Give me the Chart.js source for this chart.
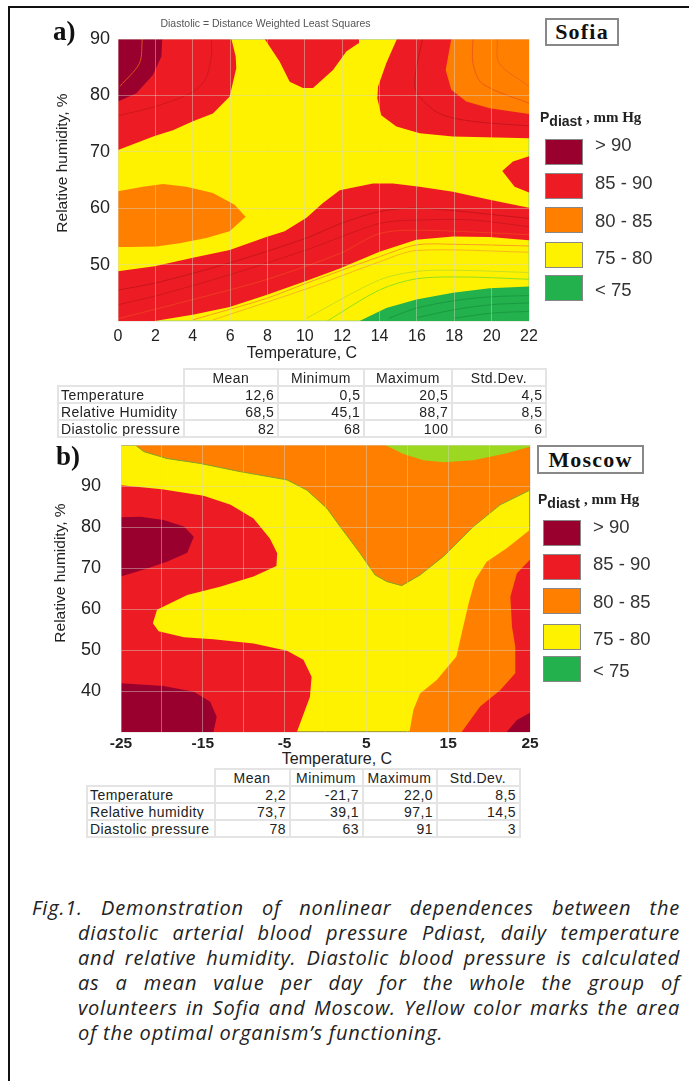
<!DOCTYPE html>
<html>
<head>
<meta charset="utf-8">
<script src="https://cdn.jsdelivr.net/npm/chart.js@4"></script>
<style>
html, body { margin: 0; padding: 0; background: #fff; }
body { position: relative; width: 689px; height: 1081px; overflow: hidden; font-family: "Liberation Sans", Arial, sans-serif; color: #222; }
.abs { position: absolute; white-space: nowrap; }
canvas { position: absolute; }
#frameTop { position: absolute; left: 9px; top: 6px; width: 680px; height: 2px; background: #111; }
#frameLeft { position: absolute; left: 8px; top: 6px; width: 2px; height: 1075px; background: #111; }
.ytitle { transform: translate(-50%, -50%) rotate(-90deg); font-size: 15.5px; }
.xtitle { transform: translate(-50%, -50%); font-size: 16px; }
.tag { font: bold 27px "Liberation Serif", serif; color: #111; transform: translateY(-50%); }
.city { font: bold 22px "Liberation Serif", serif; letter-spacing: 1.2px; color: #111; border: 2px solid #888; box-sizing: border-box; text-align: center; background: #fff; }
.pd { font: bold 14px "Liberation Sans", sans-serif; transform: translateY(-50%); color: #222; }
.pd sub { font-size: 14px; vertical-align: -4px; line-height: 0; }
.pd span { font: bold 15px "Liberation Serif", serif; }
.sw { position: absolute; box-sizing: border-box; border: 1px solid #888; }
.lg { font-size: 18.5px; transform: translateY(-50%); color: #333; }
table { position: absolute; border-collapse: collapse; font-size: 14px; color: #222; table-layout: fixed; letter-spacing: .45px; }
td { border: 2px solid #e4e4e4; padding: 0 3px 0 2px; height: 15px; line-height: 14px; text-align: right; overflow: hidden; white-space: nowrap; }
td.nm { text-align: left; }
td.hd { text-align: center; }
td.none { border: none; }
#caption { position: absolute; left: 32px; top: 895px; width: 648px; font: italic 20px/25px "Open Sans", sans-serif; letter-spacing: .8px; color: #222; }
#caption div { text-align: justify; text-align-last: justify; padding-left: 46px; white-space: nowrap; }
#caption div:first-child { padding-left: 0; }
#caption div:last-child { text-align-last: left; }
</style>
</head>
<body>
<div id="frameTop"></div><div id="frameLeft"></div>
<canvas id="sofiaChart" width="560" height="365" style="left:2px;top:0"></canvas>
<canvas id="moscowChart" width="510" height="310" style="left:50px;top:440px"></canvas>
<div id="labels"></div>
<div id="caption">
<div>Fig.1. Demonstration of nonlinear dependences between the</div>
<div>diastolic arterial blood pressure Pdiast, daily temperature</div>
<div>and relative humidity. Diastolic blood pressure is calculated</div>
<div>as a mean value per day for the whole the group of</div>
<div>volunteers in Sofia and Moscow. Yellow color marks the area</div>
<div>of the optimal organism’s functioning.</div>
</div>
<script>
// colour classes
var legendLabels = ['> 90', '85 - 90', '80 - 85', '75 - 80', '< 75'];
var legendColors = ['#99002e', '#ed1c24', '#ff7f00', '#fff200', '#22b14c'];

// tick labels
var sofiaXTicks = [0, 2, 4, 6, 8, 10, 12, 14, 16, 18, 20, 22];
var sofiaYTicks = [50, 60, 70, 80, 90];
var moscowXTicks = [-25, -15, -5, 5, 15, 25];
var moscowYTicks = [40, 50, 60, 70, 80, 90];

// Sofia contours, [temperature, humidity]
var sofiaBase = [[0,40],[22,40],[22,90],[0,90]];
var sofiaRedTopLeft = [[0,70.3],[1.96,72.8],[2.94,73.8],[4.01,75.4],[5.08,76.8],[5.98,79.8],[6.33,84.8],[6.3,86.9],[6.07,90],[0,90]];
var sofiaDarkTopLeft = [[0,78.9],[0.98,80.4],[1.87,83.6],[2.32,86.9],[2.37,90],[0,90]];
var sofiaRedTopMid = [[7.85,90],[8.65,86],[9.19,82.4],[9.9,81.3],[10.44,81.3],[11.51,84.5],[12.22,87.8],[12.85,89.2],[12.9,90]];
var sofiaRedTopRight = [[14.93,90],[14.36,85.7],[13.92,81.6],[13.88,79.5],[14.09,76.5],[14.9,74.5],[16.15,73.3],[17.93,72.7],[22,72.4],[22,90]];
var sofiaOrangeTopRight = [[17.84,90],[17.54,84.5],[17.84,81],[18.64,78.9],[19.89,77.7],[22,76.7],[22,90]];
var sofiaRedRight = [[22,69.2],[21.14,68.3],[20.57,66.6],[21.23,63.8],[22,62.8]];
var sofiaOrangeLeft = [[0,63],[1.34,63.8],[2.41,64.3],[3.66,63.8],[5.08,62.7],[6.24,60.6],[6.83,58.5],[5.98,55.9],[4.73,54.7],[3.3,53.8],[2.05,53.2],[0.62,53.1],[0,53.1]];
var sofiaRedBand = [[0,48.8],[1.96,49.7],[4.01,51.2],[5.98,52.6],[7.94,54.9],[8.92,55.9],[10.09,58.3],[10.97,60.9],[11.87,63.2],[13.65,64.4],[14.72,64.4],[16.15,63.8],[17.93,62.9],[19.89,61.5],[22,60.1],
  [22,54.3],[19.89,54.9],[17.93,55],[15.97,54.4],[14,52.3],[11.87,49.3],[9.99,47],[7.94,44.6],[5.98,42.5],[4,41.1],[1.96,40],[0,40]];
var sofiaGreen = [[12.93,40],[14.36,42.3],[15.97,43.8],[17.93,45],[19.89,45.8],[22,46.1],[22,40]];

// Sofia thin isolines
var sofiaLineBand1 = [[0,45.5],[1.96,46.7],[5.98,50.3],[10.08,54.7],[11.86,57.2],[14,59.4],[16.15,60],[22,58.2]];
var sofiaLineBand2 = [[0,42.9],[1.96,44.4],[5.98,48.2],[10.08,52.6],[14,57.3],[16,57.9],[19,57.9],[22,56.7]];
var sofiaLineBand3 = [[0,40.4],[4,43.8],[7.9,47.3],[11.9,52],[14,55.5],[16.1,56.1],[22,55.3]];
var sofiaLineYellow1 = [[4,40.2],[7.94,44],[10.08,46.7],[14,51.4],[15.97,53.5],[17.93,53.6],[22,53.3]];
var sofiaLineYellow2 = [[5.08,40.2],[10.08,45.7],[14,50.5],[15.97,52.5],[22,52.2]];
var sofiaLineGreen1 = [[10.1,40.5],[14,47.3],[16,48.8],[18,49],[22,48.6]];
var sofiaLineGreen2 = [[11.2,40],[14,45.5],[16,47.5],[18.5,47.8],[22,47.4]];
var sofiaLineDeep1 = [[14.5,40.5],[16,42.3],[18,43.6],[20,44.3],[22,44.5]];
var sofiaLineDeep2 = [[16,40.6],[18,42],[20,42.9],[22,43.2]];
var sofiaLineDeep3 = [[18,40.5],[20,41.4],[22,41.7]];
var sofiaLineTopLeft = [[0,76.4],[1.96,78],[4,80.6],[4.7,83],[5,87],[5,90]];
var sofiaLineDark = [[1.3,90],[1.15,85.7],[0.1,81.6]];
var sofiaLineTopRight = [[16.3,90],[15.9,83.3],[16,80.4],[17.2,76.8],[19,75.4],[22,74.6]];
var sofiaLineOrange1 = [[19,90],[19,85.7],[19.5,82.1],[22,78.6]];
var sofiaLineOrange2 = [[20.3,90],[20.4,85.7],[22,81.6]];

// Moscow contours
var moscowBase = [[-25,30],[25,30],[25,100],[-25,100]];
var moscowOrangeTop = [[-23.25,100],[-22.23,98.4],[-19.38,96.7],[-15.31,95.5],[-10.42,93.5],[-4.72,91.5],[-2.28,89],[0.16,84.6],[1.79,80.1],[4.23,73.6],[6.07,68.3],[7.49,66.7],[9.32,65.7],[11.56,68.3],[14.41,72.8],[18.08,80.1],[21.34,85.4],[25,89],[25,100]];
var moscowLimeTop = [[7.29,100],[9.53,97.8],[11.97,96.3],[14.41,95.8],[18.08,96.3],[22.15,98],[25,99.6],[25,100]];
var moscowRedLeft = [[-25,90.2],[-20,89.2],[-14.9,87.6],[-11.6,85.4],[-8.8,82.1],[-6.8,77.2],[-5.9,73.6],[-6,70.5],[-8.8,67.9],[-12.9,65.4],[-16.9,63.4],[-20.6,59.8],[-21.1,56.5],[-20.4,54.6],[-17.3,53.1],[-13.7,52.6],[-8.8,51.6],[-4.7,49.8],[-2.7,47.6],[-1.7,43.5],[-1.9,38.6],[-3.5,30],[-25,30]];
var moscowDarkUpper = [[-25,82.4],[-22.6,82.5],[-19.8,81.7],[-17.3,80.1],[-16.1,77.6],[-16.9,73.7],[-19.4,71.5],[-21.8,69.9],[-25,67.9]];
var moscowDarkLower = [[-25,41.9],[-19.8,41.2],[-16.1,39.8],[-14.1,37.4],[-13.3,33.7],[-13.7,30],[-25,30]];
var moscowOrangeRight = [[25,79.3],[22.15,74.8],[19.7,71.5],[18.3,67.1],[17.5,61.4],[16.65,54.1],[16,48.4],[13.6,42.7],[11.56,39.4],[10.75,35.4],[10.26,30],[25,30]];
var moscowRedRight = [[25,72],[23.4,68.7],[22.6,63],[22.8,55.7],[23.2,50.8],[23.2,44.3],[21.35,40.2],[18.9,36.2],[16.65,30],[25,30]];
var moscowDarkCorner = [[22.15,30],[23.4,32.9],[25,34.7],[25,30]];

// table values
var statColumns = ['Mean', 'Minimum', 'Maximum', 'Std.Dev.'];
var sofiaRowNames = ['Temperature', 'Relative Humidity', 'Diastolic pressure'];
var sofiaMean = ['12,6', '68,5', '82'];
var sofiaMin = ['0,5', '45,1', '68'];
var sofiaMax = ['20,5', '88,7', '100'];
var sofiaStd = ['4,5', '8,5', '6'];
var moscowRowNames = ['Temperature', 'Relative humidity', 'Diastolic pressure'];
var moscowMean = ['2,2', '73,7', '78'];
var moscowMin = ['-21,7', '39,1', '63'];
var moscowMax = ['22,0', '97,1', '91'];
var moscowStd = ['8,5', '14,5', '3'];

function area(points, color, border) {
  return { data: points, showLine: true, fill: 'shape', backgroundColor: color, borderColor: border || color, borderWidth: border ? 1 : 0, pointRadius: 0, tension: 0 };
}
function line(points, color) {
  return { data: points, showLine: true, fill: false, borderColor: color, borderWidth: 1, pointRadius: 0, tension: 0.3 };
}

var tickColor = '#222';
function axisOpts(o) {
  return {
    type: 'linear', min: o.min, max: o.max,
    grid: { color: 'rgba(215,215,200,0.45)', lineWidth: 1, z: 1, drawTicks: false },
    border: { display: false },
    afterFit: function (s) {
      if (o.w) s.width = o.w;
      if (o.h) s.height = o.h;
      // tick padding would otherwise push the plot area in
      s.paddingTop = s.paddingBottom = s.paddingLeft = s.paddingRight = 0;
    },
    ticks: {
      stepSize: o.step, padding: o.pad, autoSkip: false, maxRotation: 0, color: tickColor,
      font: { family: 'Liberation Sans', size: o.size || 16, weight: o.weight || 'normal' },
      callback: function (v) { return o.labels.indexOf(v) >= 0 ? String(v) : ''; }
    }
  };
}

function makeChart(id, layers, xOpts, yOpts, padding, title) {
  return new Chart(document.getElementById(id), {
    type: 'scatter',
    // chart.js paints dataset 0 last, so the bottom layer goes at the end
    data: { datasets: layers.slice().reverse() },
    options: {
      responsive: false, animation: false,
      layout: { padding: padding },
      plugins: { legend: { display: false }, tooltip: { enabled: false }, title: title },
      scales: { x: axisOpts(xOpts), y: axisOpts(yOpts) }
    }
  });
}

var R = legendColors[1], D = legendColors[0], O = legendColors[2], Y = legendColors[3], G = legendColors[4];

makeChart('sofiaChart', [
  area(sofiaBase, Y, '#8fd27a'),
  area(sofiaRedTopLeft, R), area(sofiaDarkTopLeft, D), area(sofiaRedTopMid, R),
  area(sofiaRedTopRight, R), area(sofiaOrangeTopRight, O), area(sofiaRedRight, R),
  area(sofiaOrangeLeft, O), area(sofiaRedBand, R), area(sofiaGreen, G),
  line(sofiaLineBand1, '#c8141c'), line(sofiaLineBand2, '#d0161e'), line(sofiaLineBand3, '#f03a20'),
  line(sofiaLineYellow1, '#f7a020'), line(sofiaLineYellow2, '#f7b820'),
  line(sofiaLineGreen1, '#c8e020'), line(sofiaLineGreen2, '#90e020'),
  line(sofiaLineDeep1, '#1a9a40'), line(sofiaLineDeep2, '#1a9a40'), line(sofiaLineDeep3, '#1a9a40'),
  line(sofiaLineTopLeft, '#d0161e'), line(sofiaLineDark, '#e0501a'), line(sofiaLineTopRight, '#c8141c'),
  line(sofiaLineOrange1, '#ef5a14'), line(sofiaLineOrange2, '#ef6a10')
], { min: 0, max: 22, step: 2, labels: sofiaXTicks, h: 44, pad: 6 },
   { min: 40, max: 90, step: 10, labels: sofiaYTicks, w: 116, pad: 8, size: 18 },
   { right: 33 },
   { display: true, text: 'Diastolic = Distance Weighted Least Squares', color: '#555',
     font: { family: 'Liberation Sans', size: 10.5, weight: 'normal' }, padding: { top: 18, bottom: 8.4 } });

makeChart('moscowChart', [
  area(moscowBase, Y, '#555'),
  area(moscowOrangeTop, O, '#86a028'), area(moscowLimeTop, '#9bd81f'),
  area(moscowRedLeft, R), area(moscowDarkUpper, D), area(moscowDarkLower, D),
  area(moscowOrangeRight, O), area(moscowRedRight, R), area(moscowDarkCorner, D)
], { min: -25, max: 25, step: 5, labels: moscowXTicks, h: 18, pad: 2, size: 15.5, weight: 'bold' },
   { min: 30, max: 100, step: 10, labels: moscowYTicks, w: 71, pad: 20, size: 18 },
   { top: 5, right: 30 },
   { display: false });

// texts and legends around the charts
var holder = document.getElementById('labels');
function add(cls, text, left, top, extra) {
  var d = document.createElement('div');
  d.className = 'abs ' + cls;
  d.innerHTML = text;
  d.style.left = left + 'px';
  d.style.top = top + 'px';
  if (extra) d.style.cssText += extra;
  holder.appendChild(d);
  return d;
}
add('ytitle', 'Relative humidity, %', 62, 163);
add('xtitle', 'Temperature, C', 302, 353);
add('ytitle', 'Relative humidity, %', 60, 573);
add('xtitle', 'Temperature, C', 337, 759);
add('tag', 'a)', 53, 31);
add('tag', 'b)', 56, 456);
add('city', 'Sofia', 545, 18, 'width:74px;height:28px;line-height:24px');
add('city', 'Moscow', 537, 445, 'width:107px;height:29px;line-height:25px');
add('pd', 'P<sub>diast</sub> <span>, mm Hg</span>', 540, 117);
add('pd', 'P<sub>diast</sub> <span>, mm Hg</span>', 538, 499);

var sofiaSwatchTops = [139, 173, 207, 242, 275];
var sofiaLabelTops = [145, 183, 221, 258, 290];
var moscowSwatchTops = [520, 554, 588, 624, 656];
var moscowLabelTops = [527, 564, 602, 639, 671];
legendLabels.forEach(function (t, i) {
  add('sw', '', 545, sofiaSwatchTops[i], 'width:38px;height:26px;background:' + legendColors[i]);
  add('sw', '', 543, moscowSwatchTops[i], 'width:38px;height:26px;background:' + legendColors[i]);
  add('lg', t.replace('<', '&lt;').replace('>', '&gt;'), 595, sofiaLabelTops[i]);
  add('lg', t.replace('<', '&lt;').replace('>', '&gt;'), 593, moscowLabelTops[i]);
});

function makeTable(left, top, widths, names, mean, min, max, std) {
  var t = document.createElement('table');
  t.style.left = left + 'px';
  t.style.top = top + 'px';
  var html = '<colgroup>' + widths.map(function (w) { return '<col style="width:' + w + 'px">'; }).join('') + '</colgroup>';
  html += '<tr><td class="none"></td>' + statColumns.map(function (c) { return '<td class="hd">' + c + '</td>'; }).join('') + '</tr>';
  names.forEach(function (n, i) {
    html += '<tr><td class="nm">' + n + '</td><td>' + mean[i] + '</td><td>' + min[i] + '</td><td>' + max[i] + '</td><td>' + std[i] + '</td></tr>';
  });
  t.innerHTML = html;
  document.body.appendChild(t);
}
makeTable(57, 368, [126, 94, 86, 88, 94], sofiaRowNames, sofiaMean, sofiaMin, sofiaMax, sofiaStd);
makeTable(86, 768, [128, 75, 73, 74, 83], moscowRowNames, moscowMean, moscowMin, moscowMax, moscowStd);
</script>
</body>
</html>
